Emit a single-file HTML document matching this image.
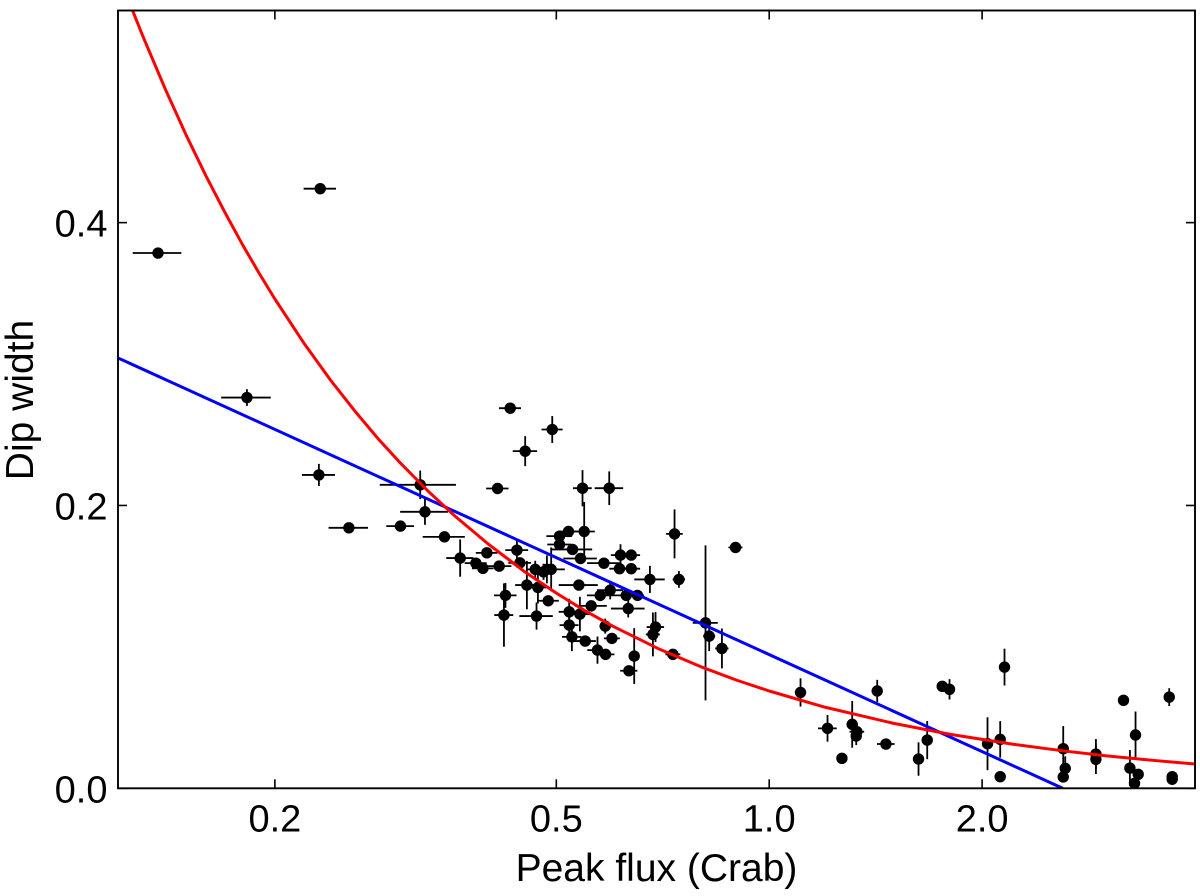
<!DOCTYPE html>
<html lang="en">
<head>
<meta charset="utf-8">
<title>Dip width vs Peak flux</title>
<style>
html,body{margin:0;padding:0;background:#fff;width:1200px;height:896px;overflow:hidden}
svg{display:block}
text{font-family:"Liberation Sans",Arial,sans-serif;fill:#000}
</style>
</head>
<body>
<svg id="chart" xmlns="http://www.w3.org/2000/svg" width="1200" height="896" viewBox="0 0 1200 896"></svg>
<script>
const xTickValues = [0.2, 0.5, 1.0, 2.0];
const xTickLabels = ["0.2", "0.5", "1.0", "2.0"];
const yTickValues = [0.0, 0.2, 0.4];
const yTickLabels = ["0.0", "0.2", "0.4"];
const xDomain = [0.12, 4.0];
const yDomain = [0, 0.55];

const peakFlux = [0.1367,0.2318,0.1826,0.2308,0.3210,0.3260,0.2545,0.3010,0.3474,0.3656,
0.4303,0.4934,0.4518,0.4129,0.5445,0.5940,0.5202,0.5475,0.5052,0.5052,
0.5271,0.5410,0.5838,0.6162,0.6381,0.6142,0.6381,0.4398,0.3988,0.3848,
0.3937,0.4151,0.4441,0.4668,0.4796,0.4849,0.4917,0.4543,0.4709,0.4870,
0.5381,0.4237,0.4216,0.4688,0.5214,0.5399,0.5601,0.5959,0.5768,0.6278,
0.6513,0.6319,0.5214,0.5260,0.5863,0.5992,0.5493,0.5717,0.5869,0.6443,
0.6333,0.7347,0.8961,0.6781,0.7453,0.8127,0.8225,0.8573,0.6906,0.6848,
0.7309,1.1073,1.2090,1.3102,1.3305,1.3275,1.2671,1.4214,1.4623,1.6260,
1.6727,1.7565,1.7986,2.0355,2.1214,2.1214,2.1513,2.6046,2.6216,2.6046,
2.8971,2.8971,3.1695,3.2361,3.2959,3.3248,3.2850,3.6780,3.7139,3.7139];

const peakFluxErr = [0.0108,0.0122,0.0147,0.0124,0.0396,0.0253,0.0163,0.0136,0.0238,0.0162,
0.0154,0.0169,0.0179,0.0150,0.0166,0.0275,0.0170,0.0193,0.0211,0.0197,
0.0348,0.0294,0.0311,0.0190,0.0187,0.0200,0.0187,0.0163,0.0141,0.0138,
0.0139,0.0169,0.0164,0.0137,0.0141,0.0142,0.0224,0.0170,0.0184,0.0171,
0.0342,0.0155,0.0130,0.0255,0.0176,0.0176,0.0292,0.0252,0.0244,0.0266,
0.0141,0.0346,0.0161,0.0166,0.0109,0.0156,0.0194,0.0186,0.0172,0.0105,
0.0178,0.0200,0.0204,0.0336,0.0150,0.0331,0.0161,0.0186,0.0195,0.0156,
0.0178,0,0.0368,0,0.0318,0,0,0,0.0419,0,
0,0.0286,0,0,0,0,0,0,0,0,
0,0,0,0,0,0,0,0,0,0];

const dipWidth = [0.3785,0.4240,0.2763,0.2216,0.2146,0.1955,0.1842,0.1854,0.1778,0.1628,
0.2688,0.2537,0.2384,0.2120,0.2122,0.2122,0.1816,0.1816,0.1783,0.1724,
0.1689,0.1625,0.1592,0.1649,0.1649,0.1553,0.1553,0.1684,0.1665,0.1592,
0.1555,0.1571,0.1594,0.1548,0.1531,0.1548,0.1548,0.1437,0.1420,0.1326,
0.1437,0.1364,0.1225,0.1218,0.1248,0.1232,0.1290,0.1401,0.1364,0.1364,
0.1364,0.1271,0.1154,0.1071,0.1147,0.1060,0.1041,0.0977,0.0947,0.0935,
0.0831,0.1799,0.1703,0.1477,0.1477,0.1170,0.1076,0.0989,0.1140,0.1088,
0.0947,0.0678,0.0424,0.0452,0.0400,0.0370,0.0212,0.0688,0.0313,0.0207,
0.0341,0.0721,0.0700,0.0315,0.0346,0.0082,0.0857,0.0280,0.0141,0.0080,
0.0242,0.0205,0.0622,0.0143,0.0377,0.0099,0.0035,0.0645,0.0082,0.0064];

const dipWidthErr = [0,0,0.0059,0.0078,0.0101,0.0092,0,0,0,0.0132,
0,0.0095,0.0106,0,0.0128,0.0119,0,0.0208,0,0.0040,
0,0,0,0.0077,0.0035,0,0,0.0071,0,0,
0,0,0,0.0061,0.0057,0.0099,0.0155,0.0171,0.0113,0,
0,0.0088,0.0224,0.0096,0.0092,0.0122,0,0.0065,0,0,
0,0.0063,0.0117,0.0101,0.0053,0,0,0.0096,0,0.0197,
0,0.0173,0,0.0096,0.0059,0.0548,0.0106,0.0141,0.0106,0.0155,
0,0.0100,0.0094,0.0165,0.0057,0.0064,0,0.0079,0,0.0118,
0.0135,0,0.0072,0.0187,0.0129,0,0.0130,0.0160,0.0085,0,
0.0106,0.0104,0.0035,0.0127,0.0166,0,0,0.0063,0,0];

const blueFitFlux = [0.12, 2.6];
const blueFitWidth = [0.3043, 0.0];

const redFitFlux = [0.125,0.13,0.14,0.15,0.16,0.17,0.18,0.19,0.2,0.22,0.24,0.26,0.28,0.3,0.33,0.36,0.4,0.45,0.5,0.55,0.6,0.7,0.8,0.9,1.0,1.2,1.5,1.8,2.2,2.6,3.0,3.5,4.0];
const redFitWidth = [0.5536,0.5323,0.4943,0.4613,0.4325,0.4071,0.3844,0.3642,0.346,0.3145,0.2883,0.2662,0.2471,0.2307,0.2097,0.1922,0.173,0.1535,0.138,0.1253,0.1148,0.0983,0.086,0.0764,0.0688,0.0573,0.0459,0.0382,0.0313,0.0265,0.0229,0.0197,0.0172];

const plotLeft = 118, plotRight = 1195, plotTop = 10.5, plotBottom = 788.3;
const NS = "http://www.w3.org/2000/svg";
const svg = document.getElementById("chart");

function xScale(v){
  return plotLeft + (Math.log10(v) - Math.log10(xDomain[0])) / (Math.log10(xDomain[1]) - Math.log10(xDomain[0])) * (plotRight - plotLeft);
}
function yScale(v){
  return plotBottom - (v - yDomain[0]) / (yDomain[1] - yDomain[0]) * (plotBottom - plotTop);
}
function make(tag, attrs, parent){
  const el = document.createElementNS(NS, tag);
  for (const k in attrs) el.setAttribute(k, attrs[k]);
  (parent || svg).appendChild(el);
  return el;
}

const defs = make("defs", {});
const clip = make("clipPath", {id: "plot-clip"}, defs);
make("rect", {x: plotLeft, y: plotTop, width: plotRight - plotLeft, height: plotBottom - plotTop}, clip);

// data points with error bars
const pointsGroup = make("g", {});


for (let i = 0; i < peakFlux.length; i++){
  const g = make("g", {}, pointsGroup);
  
  
  const cx = xScale(peakFlux[i]), cy = yScale(dipWidth[i]);
  if (peakFluxErr[i] > 0){
    const h = make("line", {x1: xScale(peakFlux[i] - peakFluxErr[i]), x2: xScale(peakFlux[i] + peakFluxErr[i]), y1: cy, y2: cy, stroke: "#000", "stroke-width": 1.8}, g);
    
    
  }
  if (dipWidthErr[i] > 0){
    const v = make("line", {x1: cx, x2: cx, y1: yScale(dipWidth[i] + dipWidthErr[i]), y2: yScale(dipWidth[i] - dipWidthErr[i]), stroke: "#000", "stroke-width": 1.8}, g);
    
    
  }
  const dot = make("circle", {cx: cx, cy: cy, r: 5.7, fill: "#000"}, g);
  
  
}

// fit curves
function linePoints(xs, ys){
  return xs.map((x, i) => xScale(x).toFixed(2) + "," + yScale(ys[i]).toFixed(2)).join(" ");
}
const blueLine = make("polyline", {points: linePoints(blueFitFlux, blueFitWidth), fill: "none", stroke: "#0000ff", "stroke-width": 3, "clip-path": "url(#plot-clip)"});


const redLine = make("polyline", {points: linePoints(redFitFlux, redFitWidth), fill: "none", stroke: "#ff0000", "stroke-width": 3, "stroke-linejoin": "round", "clip-path": "url(#plot-clip)"});



// frame
const frame = make("rect", {x: plotLeft, y: plotTop, width: plotRight - plotLeft, height: plotBottom - plotTop, fill: "none", stroke: "#000", "stroke-width": 1.9});



// ticks
const tickLen = 9;
xTickValues.forEach((v, i) => {
  const x = xScale(v);
  const b = make("line", {x1: x, x2: x, y1: plotBottom, y2: plotBottom - tickLen, stroke: "#000", "stroke-width": 1.6});
  
  
  const t = make("line", {x1: x, x2: x, y1: plotTop, y2: plotTop + tickLen, stroke: "#000", "stroke-width": 1.6});
  
  
  const label = make("text", {x: x, y: 831.5, "text-anchor": "middle", "font-size": 38});
  label.textContent = xTickLabels[i];
  
  
});
yTickValues.forEach((v, i) => {
  const y = yScale(v);
  const l = make("line", {x1: plotLeft, x2: plotLeft + tickLen, y1: y, y2: y, stroke: "#000", "stroke-width": 1.6});
  
  
  const r = make("line", {x1: plotRight, x2: plotRight - tickLen, y1: y, y2: y, stroke: "#000", "stroke-width": 1.6});
  
  
  const label = make("text", {x: 107.5, y: y + 14, "text-anchor": "end", "font-size": 38});
  label.textContent = yTickLabels[i];
  
  
});

// axis titles
const xTitle = make("text", {x: 656.5, y: 881, "text-anchor": "middle", "font-size": 39});
xTitle.textContent = "Peak flux (Crab)";


const yTitle = make("text", {x: 0, y: 0, "text-anchor": "middle", "font-size": 39, transform: "translate(33 400) rotate(-90)"});
yTitle.textContent = "Dip width";


</script>
</body>
</html>
